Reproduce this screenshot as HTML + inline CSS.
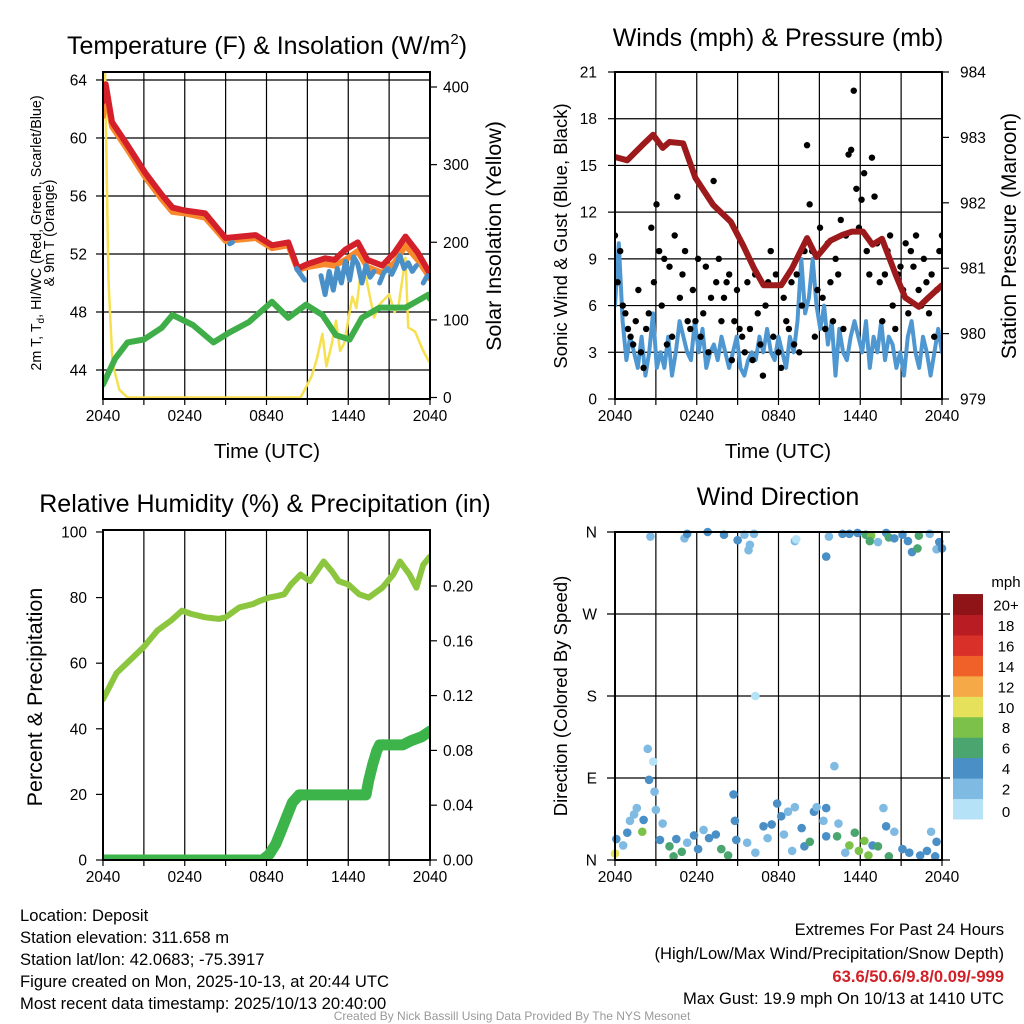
<!DOCTYPE html>
<html><head><meta charset="utf-8"><style>
html,body{margin:0;padding:0;background:#fff;}
svg{display:block;font-family:"Liberation Sans",Arial,sans-serif;}
</style></head><body>
<svg id="s" width="1024" height="1024" viewBox="0 0 1024 1024" xmlns="http://www.w3.org/2000/svg">
<rect x="0" y="0" width="1024" height="1024" fill="#fff"/>
<g id="g1"></g>
<g id="g2"></g>
<g id="g3"></g>
<g id="g4"></g>
<g id="txt" font-size="16.6" fill="#000">
<text x="267" y="54" font-size="25" text-anchor="middle">Temperature (F) &amp; Insolation (W/m<tspan font-size="15" dy="-10">2</tspan><tspan dy="10">)</tspan></text>
<text x="778" y="46" font-size="25" text-anchor="middle">Winds (mph) &amp; Pressure (mb)</text>
<text x="265" y="512" font-size="25" text-anchor="middle">Relative Humidity (%) &amp; Precipitation (in)</text>
<text x="778" y="505" font-size="25" text-anchor="middle">Wind Direction</text>
<text x="267" y="458" font-size="20.5" text-anchor="middle">Time (UTC)</text>
<text x="778" y="458" font-size="20.5" text-anchor="middle">Time (UTC)</text>
<text transform="translate(41,233) rotate(-90)" font-size="14.3" text-anchor="middle">2m T, T<tspan font-size="10" dy="3">d</tspan><tspan dy="-3">, HI/WC (Red, Green, Scarlet/Blue)</tspan></text>
<text transform="translate(54,233) rotate(-90)" font-size="14.3" text-anchor="middle">&amp; 9m T (Orange)</text>
<text transform="translate(501,236) rotate(-90)" font-size="21.5" text-anchor="middle">Solar Insolation (Yellow)</text>
<text transform="translate(567,236) rotate(-90)" font-size="18.5" text-anchor="middle">Sonic Wind &amp; Gust (Blue, Black)</text>
<text transform="translate(1016,236) rotate(-90)" font-size="21" text-anchor="middle">Station Pressure (Maroon)</text>
<text transform="translate(42,697) rotate(-90)" font-size="21.5" text-anchor="middle">Percent &amp; Precipitation</text>
<text transform="translate(567,696) rotate(-90)" font-size="18.5" text-anchor="middle">Direction (Colored By Speed)</text>
<text x="20" y="921">Location: Deposit</text>
<text x="20" y="943">Station elevation: 311.658 m</text>
<text x="20" y="965">Station lat/lon: 42.0683; -75.3917</text>
<text x="20" y="987">Figure created on Mon, 2025-10-13, at 20:44 UTC</text>
<text x="20" y="1009">Most recent data timestamp: 2025/10/13 20:40:00</text>
<text x="1004" y="935" text-anchor="end">Extremes For Past 24 Hours</text>
<text x="1004" y="959" text-anchor="end">(High/Low/Max Wind/Precipitation/Snow Depth)</text>
<text x="1004" y="982" text-anchor="end" font-weight="bold" fill="#d12027">63.6/50.6/9.8/0.09/-999</text>
<text x="1004" y="1004" text-anchor="end">Max Gust: 19.9 mph On 10/13 at 1410 UTC</text>
<text x="512" y="1020" font-size="12" fill="#999" text-anchor="middle">Created By Nick Bassill Using Data Provided By The NYS Mesonet</text>
<text x="1006" y="587" font-size="15" text-anchor="middle">mph</text>
</g>
</svg>
<script>
// ---- Temperature panel data ----
const tHours=[0,0.2,0.66,1.8,3.1,4.3,5.1,6,7.5,9,11.2,12.4,13.6,14.3,15,16.3,17,17.8,18.7,19.4,20.5,21.4,22.2,23.1,23.9,24];
const tempRed=[62.5,63.7,61.1,59.5,57.6,56.1,55.2,55.0,54.8,53.1,53.3,52.6,52.8,51.0,51.3,51.7,51.6,52.3,52.8,51.6,51.2,52.1,53.2,52.1,50.8,50.6];
const temp9m=[61.5,63.2,60.8,59.2,57.3,55.8,54.9,54.8,54.5,52.9,53.1,52.4,52.6,50.9,51.1,51.3,51.2,51.6,52.2,51.1,50.7,51.4,52.6,51.6,50.5,50.3];
const hiHours=[9.3,9.5,null,14.2,14.5,14.8,null,16.0,16.3,16.6,16.9,17.2,17.5,17.8,18.1,18.4,18.7,19.0,19.3,19.6,19.9,null,20.3,20.6,20.9,21.2,21.5,21.8,22.1,22.4,22.7,23.0,null,23.5,23.8,24];
const hiVals=[52.7,52.8,null,51.0,50.6,50.2,null,50.5,49.2,50.8,49.5,51.0,50.0,51.5,50.2,51.8,51.3,50.0,51.2,50.4,50.8,null,50.0,50.7,51.0,50.6,51.2,51.9,51.0,51.4,50.8,51.2,null,50.0,50.5,50.4];
const dewHours=[0,0.3,0.9,1.8,3,4.3,5.1,6.6,8.1,9.3,10.7,12.4,13.6,14.9,16.1,17.1,18.1,19,20.3,22.2,23.9,24];
const dewVals=[43,43.6,44.8,45.9,46.1,46.9,47.8,47.1,45.9,46.6,47.3,48.7,47.6,48.5,47.8,46.4,46.1,47.6,48.3,48.3,49.2,48.9];
const solarHours=[0,0.15,0.4,0.7,1.2,1.8,14.5,15.3,15.7,16.1,16.4,16.8,17.1,17.4,17.7,18.3,18.6,18.9,19.3,19.9,20.3,21,21.4,21.7,22.2,22.4,22.9,23.5,23.9,24];
const solarVals=[410,420,150,44,10,0,0,27,50,82,40,70,99,60,70,130,115,159,155,103,120,133,110,120,180,90,85,60,47,45];
const tempTicks=[44,48,52,56,60,64];
const solarTicks=[0,100,200,300,400];
const timeTickLabels=["2040","0240","0840","1440","2040"];
const timeTickHours=[0,6,12,18,24];
// ---- Winds panel data ----
const windVals=[6,10,5,2.5,4,3,2,4,1.5,3,5.5,2,3,2,4,1.5,3,5,4,3,2.5,5,3,4.5,2,3,3.5,2.5,4,3,2,3,4,2,1.5,2.5,3,2.5,4,3,4.5,3,2.5,4,3,2,4,3,5,9,5.5,6.5,9,6,4.5,6,3.5,5,1.5,4.5,3,2.5,4,5,4,3,5,2,4,3,5,2.5,4,3.5,2,3,1.5,4,5,3,2,4,3,1.5,3,4.5,3];
const gustVals=[10.5,7.5,9.5,6,5.5,4.5,4,3.5,5,7,3,2,4.5,5.5,11,7.5,12.5,9.5,6,9,3.5,8.5,4,10.5,13,6.5,8,9.5,5,4.5,7,5,9,4,5.5,8.5,3,6.5,14,7.5,9,5,6.5,7.5,8,2.5,5,7,4.5,4,3,7.5,4.5,2.5,8,5.5,3.5,1.5,6,7.5,9.5,4,8,3,2,6.5,5,4.5,7.5,3.5,8,3,6,9.5,16.3,12.5,9.5,4,7,11,6.5,4.5,10,7.5,5,9,8,11.5,4.5,10.5,15.7,16,19.8,13.5,11,12.8,14.5,9.5,8,15.5,13,10,7.5,5,8,9.5,10.5,6,4.5,8,8.5,7,10,5.5,9.5,8.5,10.5,7,6,9,7.5,5.5,8,4,7,9.5,10.5];
const presHours=[0,0.9,2,2.8,3.5,4,5,5.9,7.2,8.5,9.4,10.2,10.9,12.2,13,14.1,14.8,15.8,16.7,17.4,18.2,18.9,19.6,20.6,21.3,22.3,23,24];
const presVals=[982.7,982.65,982.88,983.04,982.84,982.93,982.91,982.38,981.97,981.71,981.35,981.0,980.74,980.74,981.0,981.46,981.17,981.42,981.51,981.56,981.56,981.36,981.45,980.9,980.55,980.41,980.55,980.74];
const windTicks=[0,3,6,9,12,15,18,21];
const presTicks=[979,980,981,982,983,984];
// ---- Humidity panel data ----
const rhHours=[0,0.5,1,2,3,4,5,5.8,6.5,7.5,8.5,9,10,11,11.5,12.2,12.8,13.3,13.8,14.5,15.2,15.7,16.2,16.8,17.3,18,18.8,19.5,20.5,21.3,21.8,22.5,23,23.5,24];
const rhVals=[49,53,57,61,65,70,73,76,75,74,73.5,74,77,78,79,80,80.5,81,84,87,85,88,91,88,85,84,81,80,83,87,91,87,83,90,92.5];
const precipHours=[0,11.7,12.2,12.7,13.1,13.5,13.9,14.4,19.3,19.5,19.8,20.1,20.3,22,22.6,23.4,24];
const precipVals=[0,0,0.004,0.012,0.022,0.032,0.042,0.0475,0.0475,0.058,0.07,0.08,0.084,0.084,0.087,0.09,0.094];
const rhTicks=[0,20,40,60,80,100];
const precipTicks=[0,0.04,0.08,0.12,0.16,0.20];
const precipLabels=["0.00","0.04","0.08","0.12","0.16","0.20"];
// ---- Wind direction data ----
const dirHours=[0,0.1,0.6,0.9,1.1,1.4,1.6,2,2.1,2.4,2.8,2.5,2.9,3,3.3,3.5,4,4.3,4.5,4.9,5.3,5.8,6.1,6.5,6.9,7.4,7.8,8.3,8.7,8.8,8.9,9.7,10.3,10.9,11.2,11.5,11.9,12.2,12.4,12.7,13,13.2,13.7,13.9,14.3,14.6,14.8,15.3,15.5,15.5,16.1,16.3,16.4,16.9,17.2,17.6,17.9,18.3,18.6,18.9,19.3,19.7,19.9,20.1,20.5,21.1,21.6,22.4,22.9,23.2,23.5,23.6,2.6,5.1,5.3,6.8,8,9,9.5,9.9,9.8,10.2,13.2,13.3,15.5,15.7,16.7,17.2,17.8,18.4,18.8,18.7,19.3,19.9,20.1,20.5,21.1,21.5,21.8,22.2,22.3,23.1,23.6,23.8,24,10.3];
const dirVals=[7,23,16,30,43,50,57,31,44,122,108,88,75,55,22,40,15,4,23,9,19,27,12,33,24,28,12,5,72,43,22,19,8,37,24,39,62,48,28,53,10,58,35,15,20,53,58,43,57,26,103,26,40,8,16,30,10,21,5,16,15,57,37,4,31,12,8,5,10,31,4,20,355,353,358,360,357,351,357,346,340,358,350,352,333,355,358,358,359,357,356,350,349,359,354,353,357,350,338,342,356,358,341,349,342,180];
const dirSpeeds=[11,5,3,5,3,3,3,8,5,3,1,5,3,3,5,3,7,6,5,7,3,5,5,3,5,5,7,7,5,5,5,3,3,5,3,5,5,5,3,3,3,3,5,5,7,5,3,3,5,5,3,7,3,3,9,7,9,9,9,5,7,3,5,7,3,5,5,5,5,3,5,5,3,3,5,5,5,5,3,3,3,3,3,1,5,3,5,5,5,7,9,7,3,5,7,5,5,5,5,7,7,3,3,5,5,1];
const dirTicks=[0,90,180,270,360];
const dirLabels=["N","E","S","W","N"];
const speedLabels=["0","2","4","6","8","10","12","14","16","18","20+"];
const speedColors=["#b5e2f7","#7fbae3","#4a8fc6","#4aa66e","#7cc24a","#e6e15a","#f5a947","#ef6129","#d9302a","#b91c22","#8e1418"];

const NS="http://www.w3.org/2000/svg";
const TF=15.5;
function mk(parent,tag,attrs){const e=document.createElementNS(NS,tag);for(const k in attrs)e.setAttribute(k,attrs[k]);parent.appendChild(e);return e;}
function scale(d0,d1,r0,r1){return v=>r0+(v-d0)*(r1-r0)/(d1-d0);}
function pathD(xs,ys,fx,fy){let d="",pen=false;for(let i=0;i<xs.length;i++){if(xs[i]===null||ys[i]===null){pen=false;continue;}d+=(pen?"L":"M")+fx(xs[i]).toFixed(1)+","+fy(ys[i]).toFixed(1);pen=true;}return d;}

function frame(g,x0,x1,y0,y1,fx,hLines,vGrid,clipId){
  const cp=mk(g,"clipPath",{id:clipId});mk(cp,"rect",{x:x0,y:y0,width:x1-x0,height:y1-y0});
  if(vGrid){for(let h=3;h<24;h+=3){const l=mk(g,"line",{x1:fx(h),x2:fx(h),y1:y0,y2:y1,stroke:"#000","stroke-width":1.2});
    
    }}
  hLines.forEach(y=>{const l=mk(g,"line",{x1:x0,x2:x1,y1:y,y2:y,stroke:"#000","stroke-width":1.2});
    
    });
}
function border(g,x0,x1,y0,y1){const r=mk(g,"rect",{x:x0,y:y0,width:x1-x0,height:y1-y0,fill:"none",stroke:"#000","stroke-width":2});
  
  }
function timeAxis(g,fx,y1){
  timeTickHours.forEach((h,i)=>{const t=mk(g,"text",{x:fx(h),y:y1+22,"font-size":TF,"text-anchor":"middle"});t.textContent=timeTickLabels[i];
    
    });
  for(let h=0;h<=24;h+=3){mk(g,"line",{x1:fx(h),x2:fx(h),y1:y1,y2:y1+6,stroke:"#000","stroke-width":1.2});}
}
function yLabels(g,vals,labels,fy,x,anchor,tickX,dir){
  vals.forEach((v,i)=>{const t=mk(g,"text",{x:x,y:fy(v)+5.5,"font-size":TF,"text-anchor":anchor});t.textContent=labels[i];
    
    
    mk(g,"line",{x1:tickX,x2:tickX+dir*7,y1:fy(v),y2:fy(v),stroke:"#000","stroke-width":1.2});});
}
function line(g,xs,ys,fx,fy,color,w,clip,name){const p=mk(g,"path",{d:pathD(xs,ys,fx,fy),fill:"none",stroke:color,"stroke-width":w,"stroke-linejoin":"round","stroke-linecap":"round","clip-path":"url(#"+clip+")"});
  
  return p;}

// Panel 1
(function(){const g=document.getElementById("g1");const x0=103,x1=430,y0=72,y1=399;
 const fx=scale(0,24,x0,x1),fy=scale(42,64.55,y1,y0),fs=scale(0,400,y1-1.5,87);
 frame(g,x0,x1,y0,y1,fx,tempTicks.map(fy),true,"c1");
 line(g,solarHours,solarVals,fx,fs,"#f7e04f",2.5,"c1","solar-line");
 line(g,dewHours,dewVals,fx,fy,"#3fae49",6,"c1","dewpoint-line");
 line(g,tHours,temp9m,fx,fy,"#f7892c",6,"c1","temp-9m-line");
 line(g,tHours,tempRed,fx,fy,"#d4202a",6,"c1","temp-2m-line");
 line(g,hiHours,hiVals,fx,fy,"#4a90c8",5,"c1","heat-index-line");
 border(g,x0,x1,y0,y1);timeAxis(g,fx,y1);
 yLabels(g,tempTicks,tempTicks.map(String),fy,87,"end",x0,-1);
 yLabels(g,solarTicks,solarTicks.map(String),fs,443,"start",x1,1);
})();
// Panel 2
(function(){const g=document.getElementById("g2");const x0=615,x1=942,y0=72,y1=399;
 const fx=scale(0,24,x0,x1),fy=scale(0,21,y1,y0),fp=scale(979,984,y1,y0);
 frame(g,x0,x1,y0,y1,fx,windTicks.slice(1,-1).map(fy),true,"c2");
 line(g,windVals.map((v,i)=>i*24/(windVals.length-1)),windVals,fx,fy,"#4f97d1",4,"c2","sustained-wind-line");
 gustVals.forEach((v,i)=>{const c=mk(g,"circle",{cx:fx(i*24/(gustVals.length-1)),cy:fy(v),r:3.2,fill:"#000","clip-path":"url(#c2)"});
   
   });
 line(g,presHours,presVals,fx,fp,"#9c1a1c",6,"c2","pressure-line");
 border(g,x0,x1,y0,y1);timeAxis(g,fx,y1);
 yLabels(g,windTicks,windTicks.map(String),fy,597,"end",x0,-1);
 yLabels(g,presTicks,presTicks.map(String),fp,960,"start",x1,1);
})();
// Panel 3
(function(){const g=document.getElementById("g3");const x0=103,x1=430,y0=530,y1=860;
 const fx=scale(0,24,x0,x1),fy=scale(0,100.6,y1,y0),fp=scale(0,0.2,y1,586);
 frame(g,x0,x1,y0,y1,fx,[],true,"c3");
 line(g,rhHours,rhVals,fx,fy,"#8cc63f",6,"c3","humidity-line");
 line(g,precipHours,precipVals,fx,fp,"#3cb44a",11,"c3","precipitation-line");
 border(g,x0,x1,y0,y1);timeAxis(g,fx,y1);
 yLabels(g,rhTicks,rhTicks.map(String),fy,87,"end",x0,-1);
 yLabels(g,precipTicks,precipLabels,fp,443,"start",x1,1);
})();
// Panel 4
(function(){const g=document.getElementById("g4");const x0=615,x1=942,y0=532,y1=860;
 const fx=scale(0,24,x0,x1),fy=scale(0,360,y1,y0);
 frame(g,x0,x1,y0,y1,fx,[],true,"c4");
 dirTicks.forEach(d=>{mk(g,"line",{x1:x0-8,x2:x1+8,y1:fy(d),y2:fy(d),stroke:"#000","stroke-width":1.2});});
 dirHours.forEach((h,i)=>{const b=Math.min(10,Math.floor(dirSpeeds[i]/2));
   const c=mk(g,"circle",{cx:fx(h),cy:fy(dirVals[i]),r:4.3,fill:speedColors[b]});
   
   });
 border(g,x0,x1,y0,y1);timeAxis(g,fx,y1);
 dirTicks.forEach((d,i)=>{const t=mk(g,"text",{x:597,y:fy(d)+5.5,"font-size":TF,"text-anchor":"end"});t.textContent=dirLabels[i];
   
   });
 const cb0=819,bh=20.45;
 speedColors.forEach((c,i)=>{const r=mk(g,"rect",{x:953,y:cb0-(i+1)*bh,width:30,height:bh+0.5,fill:c});
   
   
   const t=mk(g,"text",{x:1006,y:cb0-i*bh-(i===0?2:4),"font-size":15,"text-anchor":"middle"});t.textContent=speedLabels[i];
   
   });
})();
</script>
</body></html>
